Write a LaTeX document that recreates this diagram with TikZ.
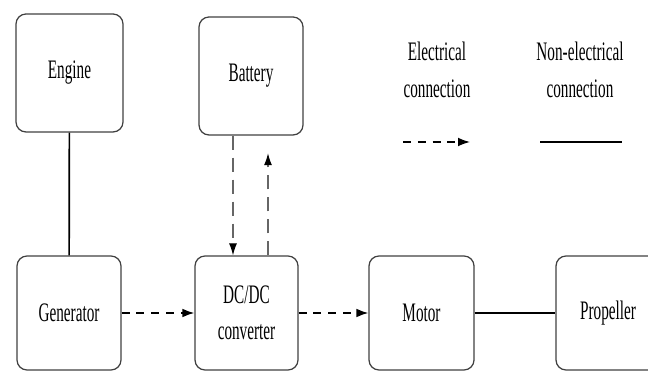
\documentclass[tikz,border=0pt]{standalone}
\usepackage{fontspec}
\setmainfont[FakeStretch=0.57]{Liberation Serif}
\usepackage{tikz}
\usetikzlibrary{arrows.meta}
\tikzstyle{block}=[draw=black!75, line width=0.9pt, rounded corners=0.25cm, align=center, font=\fontsize{19}{26}\selectfont]
\tikzstyle{elec}=[line width=1.2pt, dash pattern=on 0.2cm off 0.17cm, -{Latex[length=0.3cm,width=0.22cm]}]
\tikzstyle{elecv}=[line width=0.8pt, black!60, dash pattern=on 0.35cm off 0.2cm, -{Latex[length=0.3cm,width=0.2cm,black]}]
\tikzstyle{mech}=[line width=1.2pt]

\begin{document}
\begin{tikzpicture}
        \useasboundingbox (0,0) rectangle (16.2,9.3);
        \clip (0,0) rectangle (16.2,9.3);
        %% Bloques
        \node[block, minimum width=2.675cm, minimum height=2.95cm] (engine) at (1.7375, 7.475) {Engine};
        \node[block, minimum width=2.6cm, minimum height=2.95cm] (battery) at (6.275, 7.4) {Battery};
        \node[block, minimum width=2.6cm, minimum height=2.85cm] (generator) at (1.725, 1.475) {Generator};
        \node[block, minimum width=2.575cm, minimum height=2.85cm] (dcdc) at (6.1625, 1.475) {DC/DC\\converter};
        \node[block, minimum width=2.625cm, minimum height=2.85cm] (motor) at (10.5375, 1.475) {Motor};
        \node[block, minimum width=2.6cm, minimum height=2.85cm] (propeller) at (15.2, 1.475) {Propeller};

        %% Conexiones
        \draw[mech] (engine) -- (generator);
        \draw[elec] (generator) -- (dcdc);
        \draw[elec] (dcdc) -- (motor);
        \draw[mech] (motor) -- (propeller);
        \draw[elecv] ([xshift=-0.45cm]battery.south) -- ([xshift=-0.45cm]battery.south |- dcdc.north);
        \draw[elecv, shorten >=0.44cm] ([xshift=0.425cm]battery.south |- dcdc.north) -- ([xshift=0.425cm]battery.south);

        %% Leyenda
        \node[font=\fontsize{19}{26}\selectfont, align=center] (electxt) at (10.925, 7.55) {Electrical\\connection};
        \node[font=\fontsize{19}{26}\selectfont, align=center] (mechtxt) at (14.5, 7.55) {Non-electrical\\connection};
        \coordinate (elec_a) at (10.075, 5.75);
        \coordinate (elec_b) at (11.75, 5.75);
        \coordinate (mech_a) at (13.5, 5.75);
        \coordinate (mech_b) at (15.55, 5.75);
        \draw[elec, line width=1pt] (elec_a) -- (elec_b);
        \draw[mech] (mech_a) -- (mech_b);
\end{tikzpicture}
\end{document}
